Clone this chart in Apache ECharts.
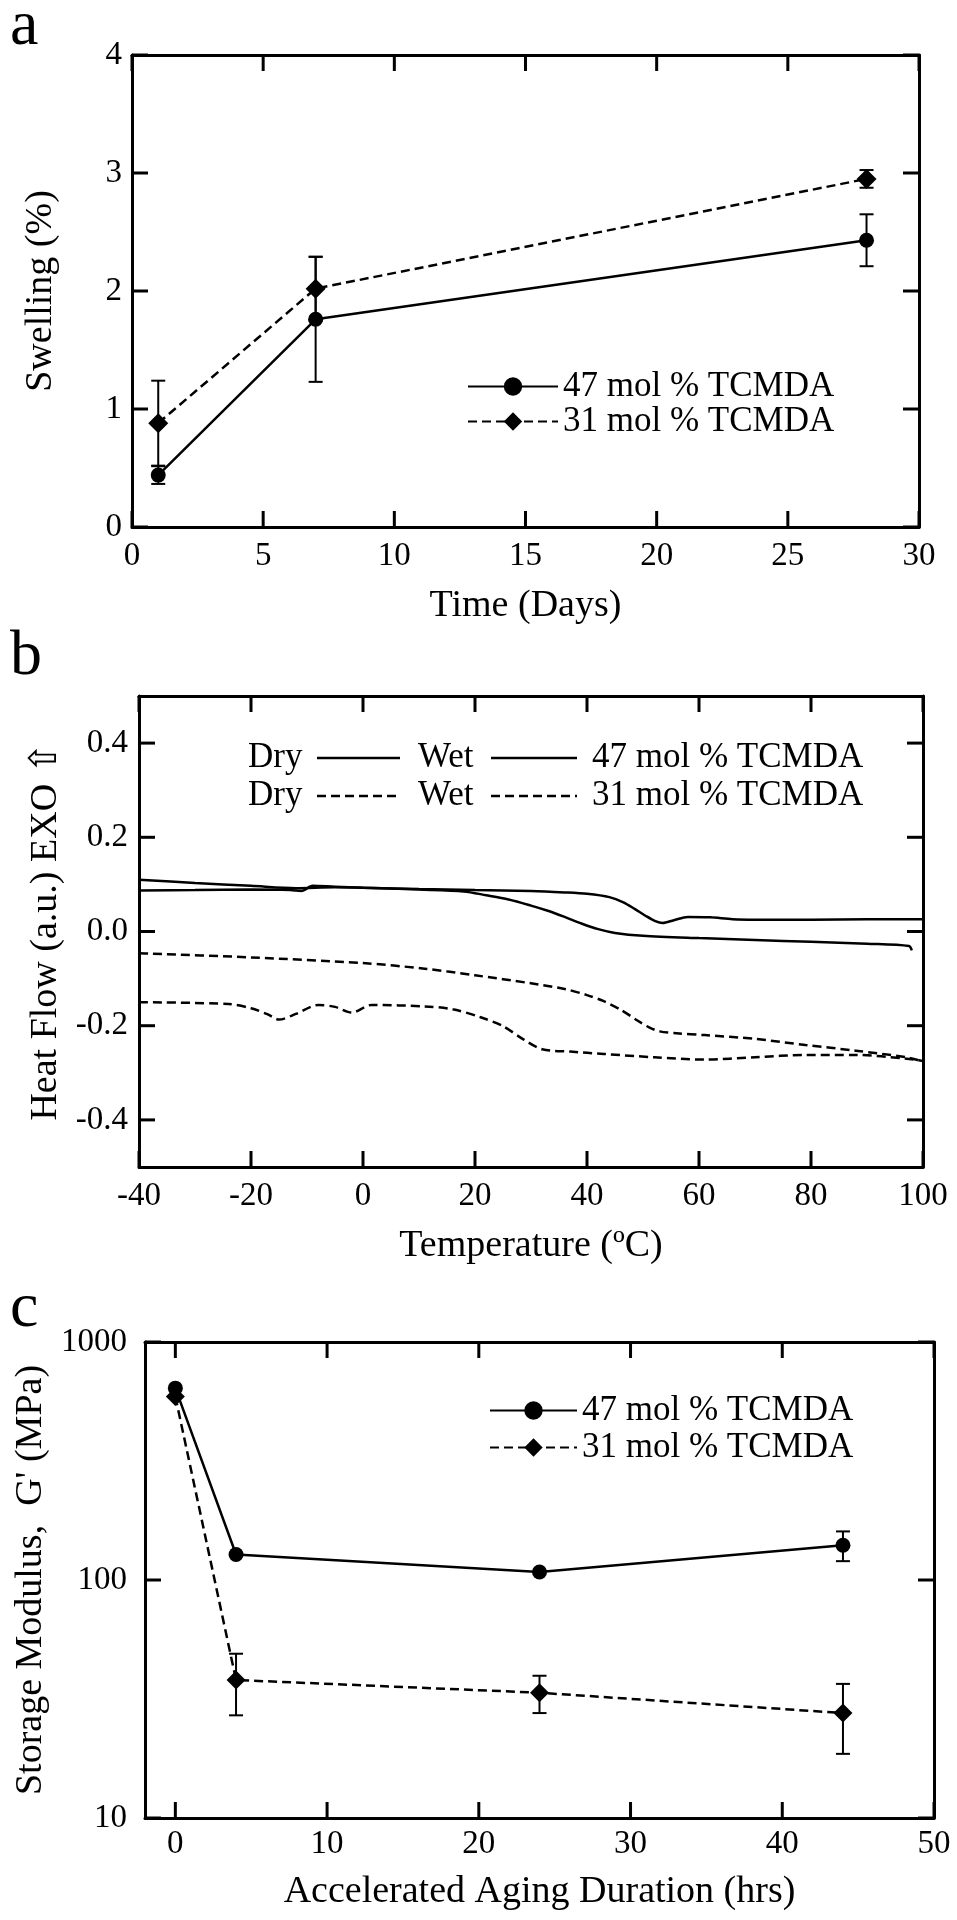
<!DOCTYPE html>
<html><head><meta charset="utf-8">
<script src="https://cdn.jsdelivr.net/npm/echarts@6/dist/echarts.min.js"></script>
<style>html,body{margin:0;padding:0;background:#fff;} #c{width:957px;height:1920px;}</style>
</head><body><div id="c"></div>
<script>
const FONT = 'Liberation Serif';

// ---------- Panel a : swelling ----------
const timeDays = [1, 7, 28];
const swelling47 = [0.44, 1.76, 2.43];
const swelling47Err = [0.075, 0.53, 0.22];
const swelling31 = [0.88, 2.02, 2.95];
const swelling31Err = [0.36, 0.27, 0.075];
const timeTicks = [0, 5, 10, 15, 20, 25, 30];
const swellingTicks = [0, 1, 2, 3, 4];

// ---------- Panel b : DSC heat flow ----------
const tempTicks = [-40, -20, 0, 20, 40, 60, 80, 100];
const heatTicks = [-0.4, -0.2, 0, 0.2, 0.4];
const temp47Dry = [-40,-30,-20,-13,-11,-9,-5,0,10,20,30,36,40,44,46.5,48.5,50.5,52.2,53.5,55.5,58,62,66,70,80,90,100];
const heat47Dry = [0.087,0.088,0.089,0.088,0.086,0.097,0.095,0.093,0.090,0.088,0.086,0.083,0.080,0.073,0.062,0.048,0.033,0.022,0.018,0.024,0.031,0.030,0.026,0.025,0.025,0.026,0.026];
const temp47Wet = [-40,-30,-20,-12,-5,0,10,18,22,26,30,33,36,39,42,45,50,60,70,80,90,97.5,98];
const heat47Wet = [0.110,0.103,0.097,0.092,0.094,0.093,0.089,0.085,0.077,0.068,0.055,0.044,0.031,0.017,0.005,-0.003,-0.009,-0.014,-0.018,-0.022,-0.026,-0.031,-0.040];
const temp31Dry = [-40,-38,-20,0,11,20,30,36,40,43,46,49,51,53,56,61,70,79,88,97,100];
const heat31Dry = [-0.046,-0.047,-0.055,-0.067,-0.079,-0.093,-0.110,-0.122,-0.135,-0.148,-0.166,-0.189,-0.203,-0.212,-0.216,-0.220,-0.228,-0.241,-0.253,-0.267,-0.276];
const temp31Wet = [-40,-24,-20,-17,-15,-12,-8,-5,-2,1.5,11,16,21,25,28.5,32,37,43,52,61,70,79,88,97,100];
const heat31Wet = [-0.150,-0.154,-0.163,-0.176,-0.187,-0.175,-0.156,-0.160,-0.172,-0.156,-0.159,-0.165,-0.182,-0.201,-0.228,-0.250,-0.255,-0.260,-0.267,-0.272,-0.267,-0.262,-0.262,-0.270,-0.275];

// ---------- Panel c : storage modulus ----------
const agingHrs = [0, 4, 24, 44];
const agingTicks = [0, 10, 20, 30, 40, 50];
const modulusTicks = [10, 100, 1000];
const modulus47 = [640, 128, 108, 140];
const modulus47Err = [0, 0, 0, 20];
const modulus31 = [590, 38, 33.6, 27.6];
const modulus31Err = [0, 11, 6, 9];

const NAME47 = '47 mol % TCMDA';
const NAME31 = '31 mol % TCMDA';

const chart = echarts.init(document.getElementById('c'), null, {renderer: 'canvas'});

const lineW = 3;
const TICK_LEN = 16;
function axisCommon(extra) {
  return Object.assign({
    axisLine: {show: true, onZero: false, lineStyle: {color: '#000', width: lineW}},
    axisTick: {show: false},
    minorTick: {show: false},
    splitLine: {show: false},
    axisLabel: {color: '#000', fontFamily: FONT, fontSize: 33},
    nameTextStyle: {color: '#000', fontFamily: FONT, fontSize: 38},
    nameLocation: 'middle'
  }, extra);
}
function mirror(ax, pos) {
  const m = Object.assign({}, ax);
  m.position = pos;
  m.name = '';
  m.axisLabel = {show: false};
  return m;
}

function errorSeries(name, xs, ys, errs, axi) {
  return {
    type: 'custom', name: name, xAxisIndex: axi, yAxisIndex: axi, silent: true, z: 1,
    data: xs.map((x, i) => [x, ys[i] - errs[i], ys[i] + errs[i]]).filter(d => d[2] > d[1]),
    renderItem: function (params, api) {
      const lo = api.coord([api.value(0), api.value(1)]);
      const hi = api.coord([api.value(0), api.value(2)]);
      const w = 7;
      const st = {stroke: '#000', lineWidth: 2};
      return {type: 'group', children: [
        {type: 'line', shape: {x1: lo[0], y1: lo[1], x2: hi[0], y2: hi[1]}, style: st},
        {type: 'line', shape: {x1: lo[0] - w, y1: lo[1], x2: lo[0] + w, y2: lo[1]}, style: st},
        {type: 'line', shape: {x1: hi[0] - w, y1: hi[1], x2: hi[0] + w, y2: hi[1]}, style: st}
      ]};
    }
  };
}
function pointSeries(name, xs, ys, axi, symbol, size, dashed) {
  return {
    type: 'line', name: name, xAxisIndex: axi, yAxisIndex: axi, z: 3,
    data: xs.map((x, i) => [x, ys[i]]),
    symbol: symbol, symbolSize: size, showSymbol: true,
    itemStyle: {color: '#000'},
    lineStyle: {color: '#000', width: 2.5, type: dashed ? [9, 5] : 'solid'}
  };
}
function curveSeries(name, xs, ys, axi, dashed) {
  return {
    type: 'line', name: name, xAxisIndex: axi, yAxisIndex: axi, z: 3,
    data: xs.map((x, i) => [x, ys[i]]), showSymbol: false, symbol: 'none', smooth: 0.3,
    lineStyle: {color: '#000', width: 2.5, type: dashed ? [9, 5] : 'solid'}
  };
}

// axes
const xa = axisCommon({type: 'value', gridIndex: 0, min: 0, max: 30, interval: 5, position: 'bottom',
  name: 'Time (Days)', nameGap: 60, axisLabel: {color: '#000', fontFamily: FONT, fontSize: 33, margin: 13}});
const ya = axisCommon({type: 'value', gridIndex: 0, min: 0, max: 4, interval: 1, position: 'left',
  name: 'Swelling (%)', nameGap: 72, axisLabel: {color: '#000', fontFamily: FONT, fontSize: 33, margin: 10}});
const xb = axisCommon({type: 'value', gridIndex: 1, min: -40, max: 100, interval: 20, position: 'bottom',
  name: 'Temperature (\u00BAC)', nameGap: 60, axisLabel: {color: '#000', fontFamily: FONT, fontSize: 33, margin: 13}});
const yb = axisCommon({type: 'value', gridIndex: 1, min: -0.5, max: 0.5, position: 'left',
  name: 'Heat Flow (a.u.) EXO \u21E7', nameGap: 56,
  axisLabel: {color: '#000', fontFamily: FONT, fontSize: 33, margin: 11, customValues: heatTicks, formatter: v => Number(v).toFixed(1)}});
const xc = axisCommon({type: 'value', gridIndex: 2, min: -2, max: 50, position: 'bottom',
  name: 'Accelerated Aging Duration (hrs)', nameGap: 55,
  axisLabel: {color: '#000', fontFamily: FONT, fontSize: 33, margin: 10, customValues: agingTicks}});
const yc = axisCommon({type: 'log', logBase: 10, gridIndex: 2, min: 10, max: 1000, position: 'left',
  name: "Storage Modulus,  G' (MPa)", nameGap: 64,
  axisLabel: {color: '#000', fontFamily: FONT, fontSize: 33, margin: 18, formatter: v => String(Math.round(v))}});

const xAxes = [xa, mirror(xa, 'top'), xb, mirror(xb, 'top'), xc, mirror(xc, 'top')];
const yAxes = [ya, mirror(ya, 'right'), yb, mirror(yb, 'right'), yc, mirror(yc, 'right')];

// panel b legend (drawn as graphic)
const legB = [];
function legRow(y, dashed, label) {
  const st = {stroke: '#000', lineWidth: 2.5, lineDash: dashed ? [9, 5] : null};
  const ts = (x, t) => ({type: 'text', x: x, y: y, style: {text: t, fill: '#000', font: '35px ' + FONT, align: 'left', verticalAlign: 'middle'}});
  legB.push(ts(248, 'Dry'));
  legB.push({type: 'line', shape: {x1: 317, y1: y, x2: 400, y2: y}, style: st});
  legB.push(ts(418, 'Wet'));
  legB.push({type: 'line', shape: {x1: 491, y1: y, x2: 577, y2: y}, style: st});
  legB.push(ts(592, label));
}
legRow(758, false, NAME47);
legRow(796, true, NAME31);

const letters = [['a', 27], ['b', 657], ['c', 1309]].map(([t, y]) => ({
  type: 'text', x: 10, y: y, style: {text: t, fill: '#000', font: '64px ' + FONT, align: 'left', verticalAlign: 'middle'}
}));

const option = {
  backgroundColor: '#fff',
  animation: false,
  grid: [
    {left: 132, right: 38, top: 55, height: 472},
    {left: 139, right: 34, top: 696, height: 471},
    {left: 145, right: 23, top: 1342, height: 476}
  ],
  xAxis: xAxes,
  yAxis: yAxes,
  legend: [
    {left: 462, top: 364, orient: 'vertical', itemWidth: 90, itemHeight: 23, itemGap: 0,
     data: [NAME47, NAME31], textStyle: {fontFamily: FONT, fontSize: 35, color: '#000'}, selectedMode: false},
    {left: 484, top: 1388, orient: 'vertical', itemWidth: 87, itemHeight: 23, itemGap: 2,
     data: [NAME47, NAME31], textStyle: {fontFamily: FONT, fontSize: 35, color: '#000'}, selectedMode: false}
  ],
  series: [
    errorSeries('err47a', timeDays, swelling47, swelling47Err, 0),
    errorSeries('err31a', timeDays, swelling31, swelling31Err, 0),
    pointSeries(NAME47, timeDays, swelling47, 0, 'circle', 15, false),
    pointSeries(NAME31, timeDays, swelling31, 0, 'diamond', 20, true),

    curveSeries('47 Dry', temp47Dry, heat47Dry, 2, false),
    curveSeries('47 Wet', temp47Wet, heat47Wet, 2, false),
    curveSeries('31 Dry', temp31Dry, heat31Dry, 2, true),
    curveSeries('31 Wet', temp31Wet, heat31Wet, 2, true),

    errorSeries('err47c', agingHrs, modulus47, modulus47Err, 4),
    errorSeries('err31c', agingHrs, modulus31, modulus31Err, 4),
    pointSeries(NAME47, agingHrs, modulus47, 4, 'circle', 15, false),
    pointSeries(NAME31, agingHrs, modulus31, 4, 'diamond', 19, true)
  ]
};
chart.setOption(option);

// inward ticks on all four sides, positioned through the axes' own scales
const tickGraphics = [];
const tickSt = {stroke: '#000', lineWidth: 3};
function addTicks(axi, xTicks, yTicks, xMin, xMax, yMin, yMax) {
  const yB = chart.convertToPixel({yAxisIndex: axi}, yMin);
  const yT = chart.convertToPixel({yAxisIndex: axi}, yMax);
  const xL = chart.convertToPixel({xAxisIndex: axi}, xMin);
  const xR = chart.convertToPixel({xAxisIndex: axi}, xMax);
  xTicks.forEach(v => {
    const px = chart.convertToPixel({xAxisIndex: axi}, v);
    tickGraphics.push({type: 'line', z: 50, shape: {x1: px, y1: yB, x2: px, y2: yB - TICK_LEN}, style: tickSt});
    tickGraphics.push({type: 'line', z: 50, shape: {x1: px, y1: yT, x2: px, y2: yT + TICK_LEN}, style: tickSt});
  });
  yTicks.forEach(v => {
    const py = chart.convertToPixel({yAxisIndex: axi}, v);
    tickGraphics.push({type: 'line', z: 50, shape: {x1: xL, y1: py, x2: xL + TICK_LEN, y2: py}, style: tickSt});
    tickGraphics.push({type: 'line', z: 50, shape: {x1: xR, y1: py, x2: xR - TICK_LEN, y2: py}, style: tickSt});
  });
}
addTicks(0, timeTicks, swellingTicks, 0, 30, 0, 4);
addTicks(2, tempTicks, heatTicks, -40, 100, -0.5, 0.5);
addTicks(4, agingTicks, modulusTicks, -2, 50, 10, 1000);

chart.setOption({graphic: legB.concat(letters).concat(tickGraphics)});
</script>
</body></html>
